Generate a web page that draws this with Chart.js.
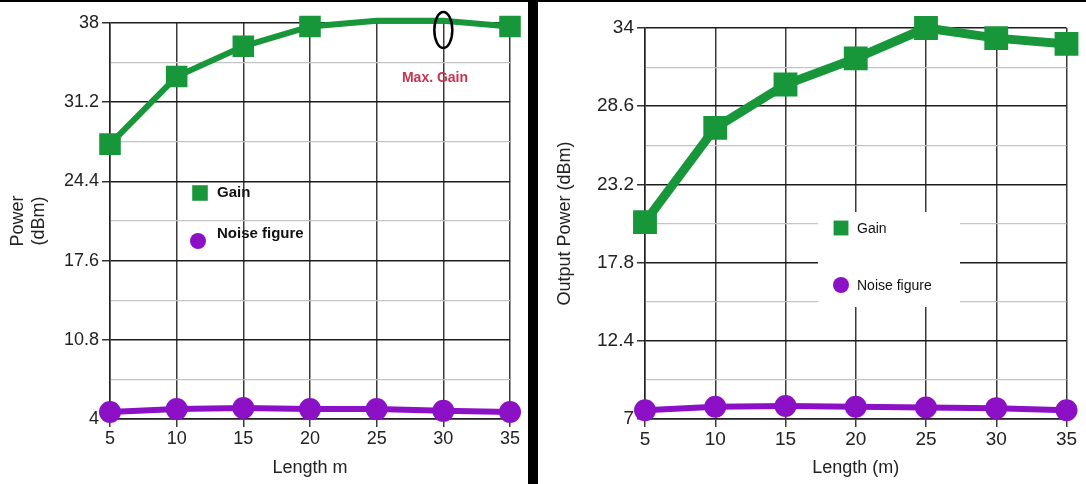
<!DOCTYPE html>
<html>
<head>
<meta charset="utf-8">
<script src="https://cdn.jsdelivr.net/npm/chart.js@4.4.1/dist/chart.umd.min.js"></script>
<style>
body{margin:0;background:#fff;width:1086px;height:484px;overflow:hidden;position:relative}
#l{position:absolute;left:0;top:0}
#r{position:absolute;left:538px;top:0}
#bar{position:absolute;left:528px;top:0;width:10px;height:484px;background:#000}
#topline{position:absolute;left:0;top:0;width:1086px;height:2px;background:#000}
</style>
</head>
<body>
<canvas id="l" width="528" height="484"></canvas>
<div id="bar"></div>
<canvas id="r" width="548" height="484"></canvas>
<div id="topline"></div>
<script>
// data
const lengths = ['5', '10', '15', '20', '25', '30', '35'];

const gainLeft = [27.6, 33.4, 36.0, 37.7, 38.2, 38.2, 37.7];
const noiseLeft = [4.6, 4.85, 4.95, 4.85, 4.85, 4.7, 4.6];
const ticksLeft = [4, 10.8, 17.6, 24.4, 31.2, 38];

const gainRight = [20.6, 27.1, 30.1, 31.9, 34.0, 33.3, 32.9];
const noiseRight = [7.6, 7.85, 7.9, 7.85, 7.8, 7.75, 7.6];
const ticksRight = [7, 12.4, 17.8, 23.2, 28.6, 34];

const green = '#17973a';
const purple = '#8c10c6';

Chart.defaults.font.family = "'Liberation Sans', Arial, sans-serif";
Chart.defaults.color = '#222';

// legend drawn inside the plot + little annotations
const inLegend = {
  id: 'inLegend',
  beforeDatasetsDraw(chart, args, opts) {
    if (!opts.box) return;
    const ctx = chart.ctx;
    ctx.save();
    ctx.fillStyle = '#fff';
    ctx.fillRect(opts.box[0], opts.box[1], opts.box[2], opts.box[3]);
    ctx.restore();
  },
  afterDatasetsDraw(chart, args, opts) {
    const ctx = chart.ctx;
    ctx.save();
    chart.data.datasets.forEach((ds, i) => {
      const it = opts.items[i];
      ctx.fillStyle = ds.borderColor;
      ctx.strokeStyle = ds.borderColor;
      ctx.lineWidth = 1;
      Chart.helpers.drawPoint(ctx, {pointStyle: ds.pointStyle, rotation: 0, radius: it.r}, it.mx, it.my);
      ctx.fillStyle = '#111';
      ctx.font = opts.font;
      ctx.textBaseline = 'middle';
      ctx.textAlign = 'left';
      ctx.fillText(ds.label, it.tx, it.ty);
    });
    if (opts.note) {
      const n = opts.note;
      ctx.fillStyle = '#c8334d';
      ctx.font = 'bold 14px "Liberation Sans", Arial, sans-serif';
      ctx.textAlign = 'center';
      ctx.fillText(n.text, n.x, n.y);
      const xs = chart.scales.x;
      const ex = xs.getPixelForValue(n.ringAt);
      ctx.beginPath();
      ctx.strokeStyle = '#000';
      ctx.lineWidth = 2.5;
      ctx.ellipse(ex, chart.chartArea.top + 7, 9, 18, 0, 0, Math.PI * 2);
      ctx.stroke();
    }
    ctx.restore();
  }
};

function makeChart(id, gain, noise, ticks, o) {
  const isMajor = v => ticks.some(t => Math.abs(t - v) < 0.01);
  return new Chart(document.getElementById(id), {
    type: 'line',
    data: {
      labels: lengths,
      datasets: [
        {
          label: 'Gain', data: gain, borderColor: green, backgroundColor: green,
          borderWidth: o.gainWidth, pointStyle: 'rect', pointRadius: o.gainPoints,
          clip: false, tension: 0
        },
        {
          label: 'Noise figure', data: noise, borderColor: purple, backgroundColor: purple,
          borderWidth: 6, pointStyle: 'circle', pointRadius: 8,
          clip: false, tension: 0
        }
      ]
    },
    options: {
      responsive: false,
      animation: false,
      devicePixelRatio: 1,
      layout: {padding: {left: 0, right: 18, top: o.top, bottom: 0}},
      plugins: {
        legend: {display: false},
        tooltip: {enabled: false},
        inLegend: o.legend
      },
      scales: {
        x: {
          grid: {color: '#3a3a3a', lineWidth: 1.5, tickLength: 8},
          border: {color: '#222', width: 1.5},
          ticks: {font: {size: o.fs}, color: '#222', maxRotation: 0, padding: 1},
          title: {display: true, text: o.xTitle, font: {size: 18}, color: '#222', padding: {top: 2, bottom: 5}},
          afterFit: s => { s.height = 65; }
        },
        y: {
          min: ticks[0],
          max: ticks[ticks.length - 1],
          grid: {
            color: c => isMajor(c.tick.value) ? '#1c1c1c' : '#c4c4c4',
            lineWidth: c => isMajor(c.tick.value) ? 1.5 : 1.2,
            tickColor: c => isMajor(c.tick.value) ? '#333' : 'rgba(0,0,0,0)',
            tickLength: 8
          },
          border: {color: '#222', width: 1.5},
          ticks: {
            stepSize: (ticks[1] - ticks[0]) / 2,
            autoSkip: false,
            font: {size: o.fs}, color: '#222', padding: 3,
            callback: v => isMajor(v) ? String(Math.round(v * 10) / 10) : ''
          },
          title: {display: true, text: o.yTitle, font: {size: 18}, color: '#222', padding: {top: o.yTitlePad, bottom: 0}},
          afterFit: s => { s.width = o.yWidth; }
        }
      }
    },
    plugins: [inLegend]
  });
}

makeChart('l', gainLeft, noiseLeft, ticksLeft, {
  top: 23, yWidth: 110, yTitlePad: 7, gainWidth: 6, fs: 18,
  gainPoints: [11, 11, 11, 11, 0, 0, 11],
  xTitle: 'Length m', yTitle: ['Power', '(dBm)'],
  legend: {
    font: 'bold 15px "Liberation Sans", Arial, sans-serif',
    items: [
      {mx: 200, my: 193, r: 11, tx: 217, ty: 193},
      {mx: 198, my: 241, r: 8, tx: 217, ty: 234}
    ],
    note: {text: 'Max. Gain', x: 435, y: 78, ringAt: 5}
  }
});

makeChart('r', gainRight, noiseRight, ticksRight, {
  top: 28, yWidth: 107, yTitlePad: 16, gainWidth: 9, fs: 19,
  gainPoints: 10.5,
  xTitle: 'Length (m)', yTitle: 'Output Power (dBm)',
  legend: {
    font: '14px "Liberation Sans", Arial, sans-serif',
    box: [280, 212, 142, 95],
    items: [
      {mx: 303, my: 228, r: 10.5, tx: 319, ty: 229},
      {mx: 303, my: 285, r: 8, tx: 319, ty: 286}
    ]
  }
});
</script>
</body>
</html>
